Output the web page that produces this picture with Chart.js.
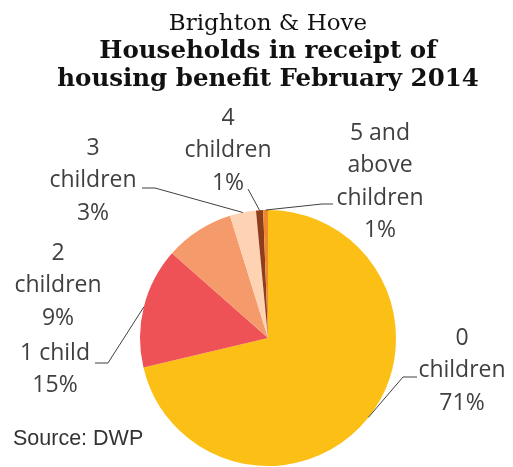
<!DOCTYPE html>
<html>
<head>
<meta charset="utf-8">
<title>Households in receipt of housing benefit February 2014</title>
<script src="https://cdn.jsdelivr.net/npm/chart.js@4/dist/chart.umd.min.js"></script>
<style>
  html, body { margin: 0; padding: 0; background: #ffffff; }
  #wrap { position: relative; width: 513px; height: 467px; }
</style>
</head>
<body>
<div id="wrap"><canvas id="chart" width="513" height="467"></canvas></div>
<script>
// Households by number of dependent children (% share)
const categories = [
  ['0', 'children'],
  ['1 child'],
  ['2', 'children'],
  ['3', 'children'],
  ['4', 'children'],
  ['5 and', 'above', 'children']
];
const shares = [71.3, 15.2, 8.7, 3.3, 0.9, 0.6];
const sliceColors = ['#FBBF16', '#EF5256', '#F59A6B', '#FDD3B3', '#8F3E1C', '#F0892E'];

const titleText = 'Brighton & Hove';
const subtitleText = ['Households in receipt of', 'housing benefit February 2014'];
const sourceText = 'Source: DWP';

// Label placement relative to the pie centre: text block centre (first line),
// and optional leader elbow / end points.
const labelLayout = [
  { dx: 194, dy: 0,    elbow: [135, 39],   end: [149, 39] },
  { dx: -213, dy: 15,  elbow: [-160, 25],  end: [-173, 25] },
  { dx: -210, dy: -85, elbow: null,        end: null },
  { dx: -175, dy: -190, elbow: [-113, -150], end: [-126, -150] },
  { dx: -40, dy: -220, elbow: null,        end: [-20, -149] },
  { dx: 112, dy: -205, elbow: [54, -134],  end: [65, -134] }
];

const LABEL_FONT = '23px "Open Sans", sans-serif';
const LABEL_COLOR = '#404040';
const LINE_STEP = 32.5;

const sliceLabels = {
  id: 'sliceLabels',
  afterDatasetsDraw(chart) {
    const ctx = chart.ctx;
    const meta = chart.getDatasetMeta(0);
    const values = chart.data.datasets[0].data;
    const total = values.reduce((a, b) => a + b, 0);
    ctx.save();
    meta.data.forEach((arc, i) => {
      const p = arc.getProps(['x', 'y', 'startAngle', 'endAngle', 'outerRadius'], true);
      const mid = (p.startAngle + p.endAngle) / 2;
      const ex = p.x + Math.cos(mid) * p.outerRadius;
      const ey = p.y + Math.sin(mid) * p.outerRadius;
      const lay = labelLayout[i];

      // leader line
      if (lay.end) {
        ctx.beginPath();
        ctx.strokeStyle = '#404040';
        ctx.lineWidth = 1;
        ctx.moveTo(ex, ey);
        if (lay.elbow) ctx.lineTo(p.x + lay.elbow[0], p.y + lay.elbow[1]);
        ctx.lineTo(p.x + lay.end[0], p.y + lay.end[1]);
        ctx.stroke();
      }

      // category + percentage text
      const pct = Math.round(values[i] / total * 100) + '%';
      const lines = chart.data.labels[i].concat([pct]);
      ctx.font = LABEL_FONT;
      ctx.fillStyle = LABEL_COLOR;
      ctx.textAlign = 'center';
      ctx.textBaseline = 'middle';
      lines.forEach((t, k) => {
        ctx.fillText(t, p.x + lay.dx, p.y + lay.dy + k * LINE_STEP);
      });
    });

    // source note
    ctx.font = '21.5px "Liberation Sans", Arial, sans-serif';
    ctx.fillStyle = '#333333';
    ctx.textAlign = 'left';
    ctx.textBaseline = 'middle';
    ctx.fillText(sourceText, 13, 439);
    ctx.restore();
  }
};

new Chart(document.getElementById('chart'), {
  type: 'pie',
  data: {
    labels: categories,
    datasets: [{
      data: shares,
      backgroundColor: sliceColors,
      borderWidth: 0,
      hoverOffset: 0
    }]
  },
  options: {
    responsive: false,
    animation: false,
    layout: { padding: { left: 23, right: 0, top: 0, bottom: 1 } },
    plugins: {
      legend: { display: false },
      tooltip: { enabled: false },
      title: {
        display: true,
        text: titleText,
        color: '#111111',
        font: { family: '"DejaVu Serif", serif', size: 23, weight: 'normal', lineHeight: 1.2 },
        padding: { top: 10, bottom: 0 }
      },
      subtitle: {
        display: true,
        text: subtitleText,
        color: '#111111',
        font: { family: '"DejaVu Serif", serif', size: 24.5, weight: 'bold', lineHeight: 1.15 },
        padding: { top: 0, bottom: 116.05 }
      }
    }
  },
  plugins: [sliceLabels]
});
</script>
</body>
</html>
